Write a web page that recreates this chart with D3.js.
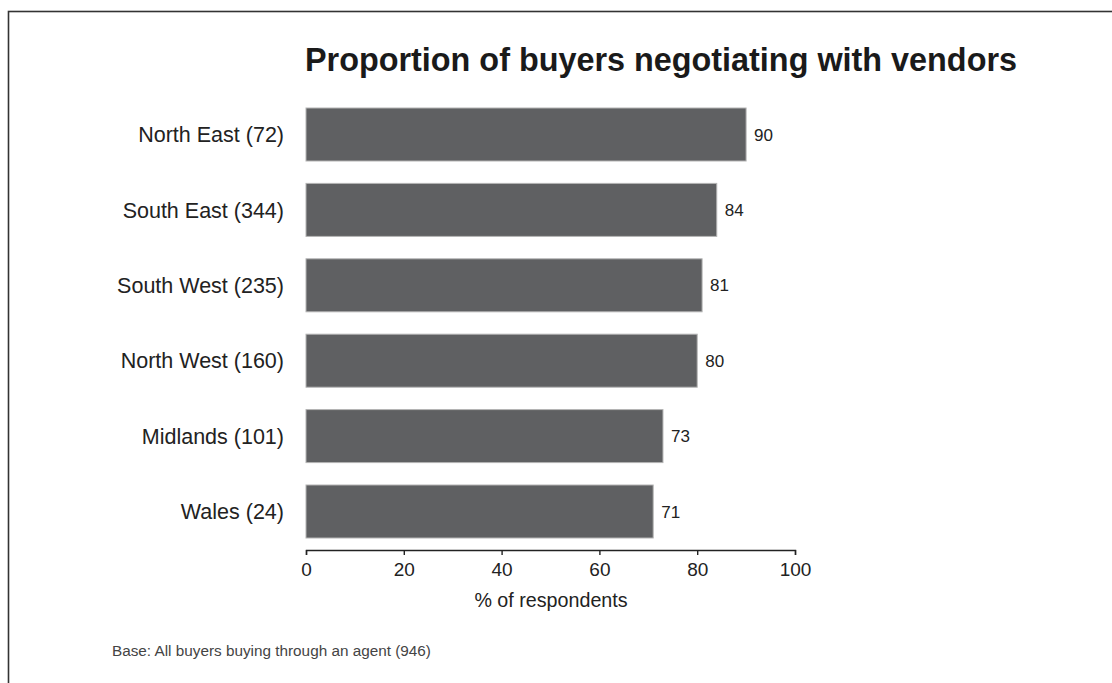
<!DOCTYPE html>
<html>
<head>
<meta charset="utf-8">
<script src="https://cdn.jsdelivr.net/npm/d3@7"></script>
<style>
  html, body { margin: 0; padding: 0; background: #fff; }
  svg { display: block; }
</style>
</head>
<body>
<svg id="chart" width="1112" height="683"></svg>
<script>
// Regions with respondent counts, and the share negotiating with vendors (%)
const regions = ["North East (72)", "South East (344)", "South West (235)", "North West (160)", "Midlands (101)", "Wales (24)"];
const shares = [90, 84, 81, 80, 73, 71];
const xTicks = [0, 20, 40, 60, 80, 100];

const title = "Proportion of buyers negotiating with vendors";
const xTitle = "% of respondents";
const footnote = "Base: All buyers buying through an agent (946)";

const W = 1112, H = 683;
const svg = d3.select("#chart");
const font = "'Liberation Sans', Arial, sans-serif";

// Frame around the panel (runs off the right and bottom edges)
svg.append("rect")
  .attr("x", 8.5).attr("y", 11.5)
  .attr("width", W + 20).attr("height", H + 20)
  .attr("fill", "none").attr("stroke", "#333").attr("stroke-width", 1.6);

const plot = { left: 306, right: 795, top: 108, bottom: 538 };

const x = d3.scaleLinear().domain([0, 100]).range([plot.left, plot.right]);
const y = d3.scaleBand().domain(regions).range([plot.top, plot.bottom]).paddingInner(0.297).paddingOuter(0);

// Bars
svg.append("g").selectAll("rect")
  .data(regions)
  .join("rect")
  .attr("x", x(0))
  .attr("y", d => y(d))
  .attr("width", (d, i) => x(shares[i]) - x(0))
  .attr("height", y.bandwidth())
  .attr("fill", "#5f6062")
  .attr("stroke", "#b4b4b4")
  .attr("stroke-width", 1);

// Value labels
svg.append("g").selectAll("text")
  .data(regions)
  .join("text")
  .attr("x", (d, i) => x(shares[i]) + 8)
  .attr("y", d => y(d) + y.bandwidth() / 2)
  .attr("dy", "0.36em")
  .attr("font-family", font)
  .attr("font-size", 17)
  .attr("fill", "#222")
  .text((d, i) => shares[i]);

// Category labels
svg.append("g").selectAll("text")
  .data(regions)
  .join("text")
  .attr("x", 284)
  .attr("y", d => y(d) + y.bandwidth() / 2)
  .attr("dy", "0.36em")
  .attr("text-anchor", "end")
  .attr("font-family", font)
  .attr("font-size", 21.5)
  .attr("fill", "#222")
  .text(d => d);

// X axis
const axis = svg.append("g")
  .attr("transform", "translate(0,550)")
  .call(d3.axisBottom(x).tickValues(xTicks).tickSizeInner(5).tickSizeOuter(5).tickPadding(8));
axis.select(".domain").attr("stroke", "#222").attr("stroke-width", 1.4);
axis.selectAll(".tick line").attr("stroke", "#222").attr("stroke-width", 1.4);
axis.selectAll(".tick text")
  .attr("font-family", font)
  .attr("font-size", 19)
  .attr("fill", "#222");

svg.append("text")
  .attr("x", x(50) + 0.5).attr("y", 607)
  .attr("text-anchor", "middle")
  .attr("font-family", font)
  .attr("font-size", 19.7)
  .attr("fill", "#222")
  .text(xTitle);

// Title
svg.append("text")
  .attr("x", 305).attr("y", 71)
  .attr("font-family", "'Liberation Sans Narrow', 'Liberation Sans', Arial, sans-serif")
  .attr("font-weight", "bold")
  .attr("font-size", 34)
  .attr("fill", "#1a1a1a")
  .attr("textLength", 712)
  .attr("lengthAdjust", "spacingAndGlyphs")
  .text(title);

// Footnote
svg.append("text")
  .attr("x", 112).attr("y", 656)
  .attr("font-family", font)
  .attr("font-size", 15.3)
  .attr("fill", "#444")
  .text(footnote);
</script>
</body>
</html>
